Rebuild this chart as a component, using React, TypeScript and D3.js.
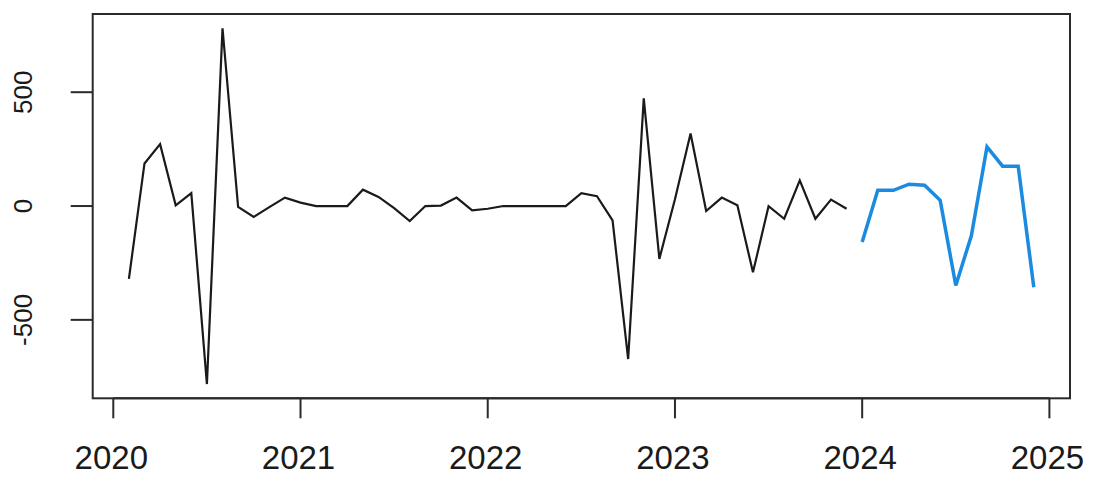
import React from "react";
import * as d3 from "d3";

// Monthly series: history starts Feb 2020, forecast starts Jan 2024
const histStart = 2020 + 1 / 12;
const histValues = [
  -320, 187, 272, 3, 57, -782, 781, -4, -48, -5, 37, 15, 0, 0,
  0, 72, 40, -9, -66, 0, 2, 37, -19, -12, 0, 0, 0, 0, 0, 57,
  43, -63, -672, 473, -232, 30, 319, -22, 37, 3, -291, -1, -56, 113, -56, 28, -12,
];
const fcStart = 2024;
const fcValues = [-158, 69, 69, 96, 91, 25, -349, -130, 260, 175, 175, -357];

const xTicks = [2020, 2021, 2022, 2023, 2024, 2025];
const yTicks = [-500, 0, 500];

const W = 1095;
const H = 477;
const box = { left: 92.7, right: 1070, top: 14, bottom: 398.3 };

export default function App() {
  const hist = histValues.map((v, i) => ({ t: histStart + i / 12, v }));
  const fc = fcValues.map((v, i) => ({ t: fcStart + i / 12, v }));
  const all = hist.concat(fc);
  const tExt = d3.extent(all, (d) => d.t) as [number, number];
  const vExt = d3.extent(all, (d) => d.v) as [number, number];
  const tPad = (tExt[1] - tExt[0]) * 0.04;
  const vPad = (vExt[1] - vExt[0]) * 0.04;

  const x = d3
    .scaleLinear()
    .domain([tExt[0] - tPad, tExt[1] + tPad])
    .range([box.left, box.right]);
  const y = d3
    .scaleLinear()
    .domain([vExt[0] - vPad, vExt[1] + vPad])
    .range([box.bottom, box.top]);

  const line = d3
    .line<{ t: number; v: number }>()
    .x((d) => x(d.t))
    .y((d) => y(d.v));

  const font = "'Liberation Sans', Arial, sans-serif";

  return (
    <svg
      width={W}
      height={H}
      style={{ position: "absolute", left: 0, top: 0, background: "#fff" }}
    >
      <rect x={0} y={0} width={W} height={H} fill="#fff" />
      <path d={line(hist) || ""} fill="none" stroke="#1a1a1a" strokeWidth={2.2} strokeLinejoin="miter" />
      <path d={line(fc) || ""} fill="none" stroke="#1b8be0" strokeWidth={3.5} strokeLinejoin="miter" />
      <rect
        x={box.left}
        y={box.top}
        width={box.right - box.left}
        height={box.bottom - box.top}
        fill="none"
        stroke="#2a2a2a"
        strokeWidth={2}
      />
      {/* x axis */}
      <line x1={x(xTicks[0])} x2={x(xTicks[xTicks.length - 1])} y1={box.bottom} y2={box.bottom} stroke="#2a2a2a" strokeWidth={2} />
      {xTicks.map((t) => (
        <g key={t}>
          <line x1={x(t)} x2={x(t)} y1={box.bottom} y2={box.bottom + 20} stroke="#2a2a2a" strokeWidth={2} />
          <text x={x(t) - 2} y={469} textAnchor="middle" fontFamily={font} fontSize={33} fill="#1a1a1a">
            {t}
          </text>
        </g>
      ))}
      {/* y axis */}
      {yTicks.map((v) => (
        <g key={v}>
          <line x1={box.left - 22} x2={box.left} y1={y(v)} y2={y(v)} stroke="#2a2a2a" strokeWidth={2} />
          <text
            transform={`translate(32,${y(v)}) rotate(-90)`}
            textAnchor="middle"
            fontFamily={font}
            fontSize={26}
            fill="#1a1a1a"
          >
            {v}
          </text>
        </g>
      ))}
    </svg>
  );
}
